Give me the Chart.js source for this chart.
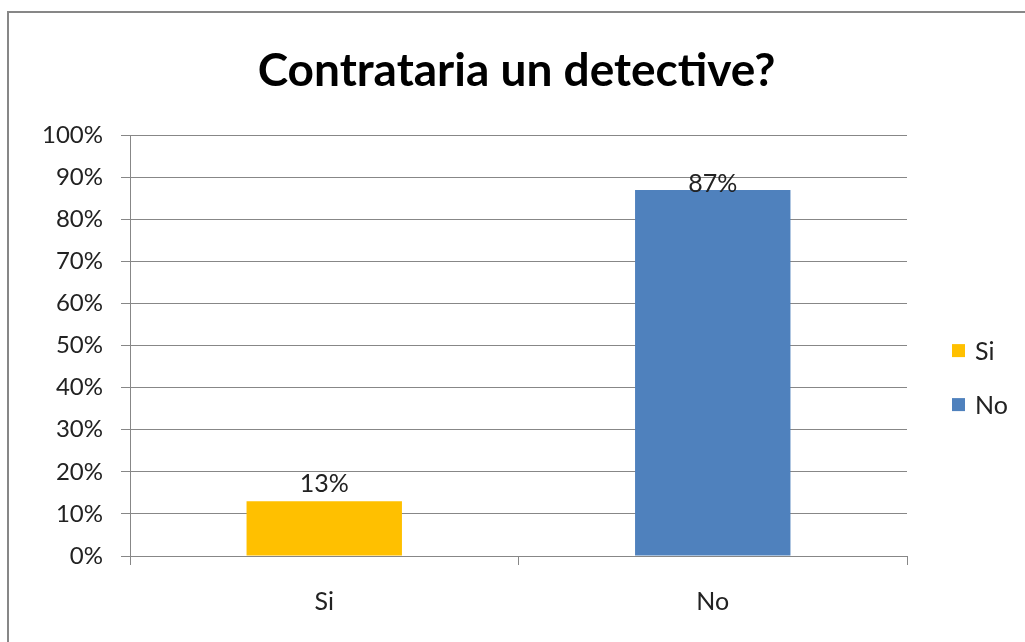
<!DOCTYPE html>
<html>
<head>
<meta charset="utf-8">
<script src="https://cdn.jsdelivr.net/npm/chart.js@4/dist/chart.umd.min.js"></script>
<style>
  html, body { margin: 0; padding: 0; background: #fff; overflow: hidden; }
  #wrap { position: relative; width: 1025px; height: 642px; }
  #frame {
    position: absolute; left: 7px; top: 11px; width: 1100px; height: 700px;
    border: 2px solid #878787; pointer-events: none;
  }
</style>
</head>
<body>
<div id="wrap">
  <canvas id="chart" width="1025" height="642"></canvas>
  <div id="frame"></div>
</div>
<script>
const categories = ["Si", "No"];
const seriesNames = ["Si", "No"];
const seriesValues = [13, 87];
const seriesColors = ["#FFC000", "#4F81BD"];
const yTicks = [0, 10, 20, 30, 40, 50, 60, 70, 80, 90, 100];

const fontFamily = "Lato, 'Open Sans', sans-serif";
Chart.defaults.font.family = fontFamily;
Chart.defaults.color = "#222";

// one dataset per legend entry, nulls skipped so bars stay centred
const datasets = seriesNames.map((name, i) => ({
  label: name,
  data: categories.map((c, j) => (j === i ? seriesValues[i] : null)),
  backgroundColor: seriesColors[i],
  borderWidth: 0,
  barPercentage: 0.4,
  categoryPercentage: 1,
}));

const valueLabels = {
  id: "valueLabels",
  afterDatasetsDraw(chart) {
    const ctx = chart.ctx;
    ctx.save();
    ctx.font = "25px " + fontFamily;
    ctx.fillStyle = "#222";
    ctx.textAlign = "center";
    ctx.textBaseline = "alphabetic";
    chart.data.datasets.forEach((ds, i) => {
      chart.getDatasetMeta(i).data.forEach((bar, j) => {
        if (ds.data[j] == null) return;
        const y = Math.max(bar.y - 9, chart.chartArea.top + 57);
        ctx.fillText(ds.data[j] + "%", bar.x, y);
      });
    });
    ctx.restore();
  },
};

// legend drawn to the right of the plot, like the office chart
const sideLegend = {
  id: "sideLegend",
  afterDraw(chart) {
    const ctx = chart.ctx;
    const area = chart.chartArea;
    const x = area.right + 45;
    const mid = (area.top + area.bottom) / 2 + 32;
    const step = 54;
    ctx.save();
    ctx.font = "25px " + fontFamily;
    ctx.textBaseline = "middle";
    ctx.textAlign = "left";
    chart.data.datasets.forEach((ds, i) => {
      const cy = mid + (i - (chart.data.datasets.length - 1) / 2) * step;
      ctx.fillStyle = ds.backgroundColor;
      ctx.fillRect(x, cy - 6.5, 13, 13);
      ctx.fillStyle = "#222";
      ctx.fillText(ds.label, x + 23, cy + 1);
    });
    ctx.restore();
  },
};

new Chart(document.getElementById("chart"), {
  type: "bar",
  data: { labels: categories, datasets },
  options: {
    responsive: false,
    animation: false,
    skipNull: true,
    layout: { padding: { left: 8, right: 0, top: 0, bottom: 0 } },
    plugins: {
      title: {
        display: true,
        text: "Contrataria un detective?",
        color: "#000",
        font: { size: 46, weight: "bold", family: fontFamily },
        padding: { top: 44, bottom: 36 },
      },
      legend: { display: false },
      tooltip: { enabled: false },
    },
    scales: {
      x: {
        grid: {
          offset: true,
          drawOnChartArea: false,
          tickLength: 9,
          color: "#878787",
        },
        border: { color: "#878787" },
        ticks: { padding: 22, font: { size: 25 }, color: "#222" },
        afterFit(scale) { scale.height = 86; },
      },
      y: {
        min: 0,
        max: 100,
        afterBuildTicks(scale) { scale.ticks = yTicks.map(v => ({ value: v })); },
        grid: { color: "#878787", tickLength: 9 },
        border: { color: "#878787" },
        ticks: {
          padding: 18,
          font: { size: 24 },
          color: "#222",
          callback: v => v + "%",
        },
        afterFit(scale) { scale.width = 122; },
      },
      // empty right axis only reserves room for the legend
      legendSpace: {
        position: "right",
        min: 0,
        max: 100,
        grid: { display: false },
        border: { display: false },
        ticks: { display: false },
        afterFit(scale) { scale.width = 118; },
      },
    },
  },
  plugins: [valueLabels, sideLegend],
});
</script>
</body>
</html>
